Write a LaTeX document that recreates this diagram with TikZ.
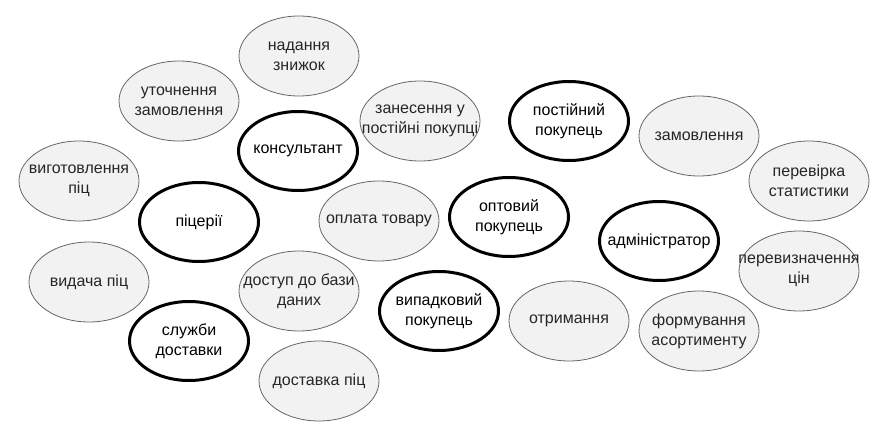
\documentclass[tikz,border=0pt]{standalone}
\usepackage{fontspec}
\setmainfont{Liberation Sans}
\usetikzlibrary{shapes.geometric}
\tikzset{
  uc/.style={ellipse, draw=black!60, fill=black!5, line width=0.8pt, minimum width=120pt, minimum height=80pt, inner sep=0pt},
  actor/.style={ellipse, draw=black, fill=white, line width=3pt, minimum width=119pt, minimum height=79pt, inner sep=0pt},
  uctext/.style={align=center, inner sep=0pt, text=black!85, font=\fontsize{16}{20}\selectfont},
  actext/.style={align=center, inner sep=0pt, text=black, font=\fontsize{16}{20}\selectfont},
}
\newcommand\ucnode[3]{\node[uc] (#1) at (#2) {}; \node[uctext] (#1t) at (#1.center) {#3};}
\newcommand\acnode[3]{\node[actor] (#1) at (#2) {}; \node[actext] (#1t) at (#1.center) {#3};}
\begin{document}
\begin{tikzpicture}[x=1pt,y=-1pt]
\useasboundingbox (0,0) rectangle (883,441);
\ucnode{znyzhky}{299,56}{надання\\знижок}
\ucnode{utochn}{179,101}{уточнення\\замовлення}
\ucnode{zanes}{420,121}{занесення у\\постійні покупці}
\ucnode{vyhot}{79,181}{виготовлення\\піц}
\ucnode{oplata}{379,221}{оплата товару}
\ucnode{vydacha}{89,282}{видача піц}
\ucnode{dostup}{299,291}{доступ до бази\\даних}
\ucnode{dostavka}{319,381}{доставка піц}
\ucnode{zamovl}{699,136}{замовлення}
\ucnode{perevirka}{809,181}{перевірка\\статистики}
\ucnode{pereviz}{799,271}{перевизначення\\цін}
\ucnode{otrym}{569,321}{отримання}
\ucnode{formuv}{699,331}{формування\\асортименту}
\acnode{konsult}{298,151}{консультант}
\acnode{pizza}{199,222}{піцерії}
\acnode{postiyn}{569,121}{постійний\\покупець}
\acnode{optov}{509,217}{оптовий\\покупець}
\acnode{admin}{659,241}{адміністратор}
\acnode{vypadk}{439,311}{випадковий\\покупець}
\acnode{sluzhby}{189,341}{служби\\доставки}
\end{tikzpicture}
\end{document}
